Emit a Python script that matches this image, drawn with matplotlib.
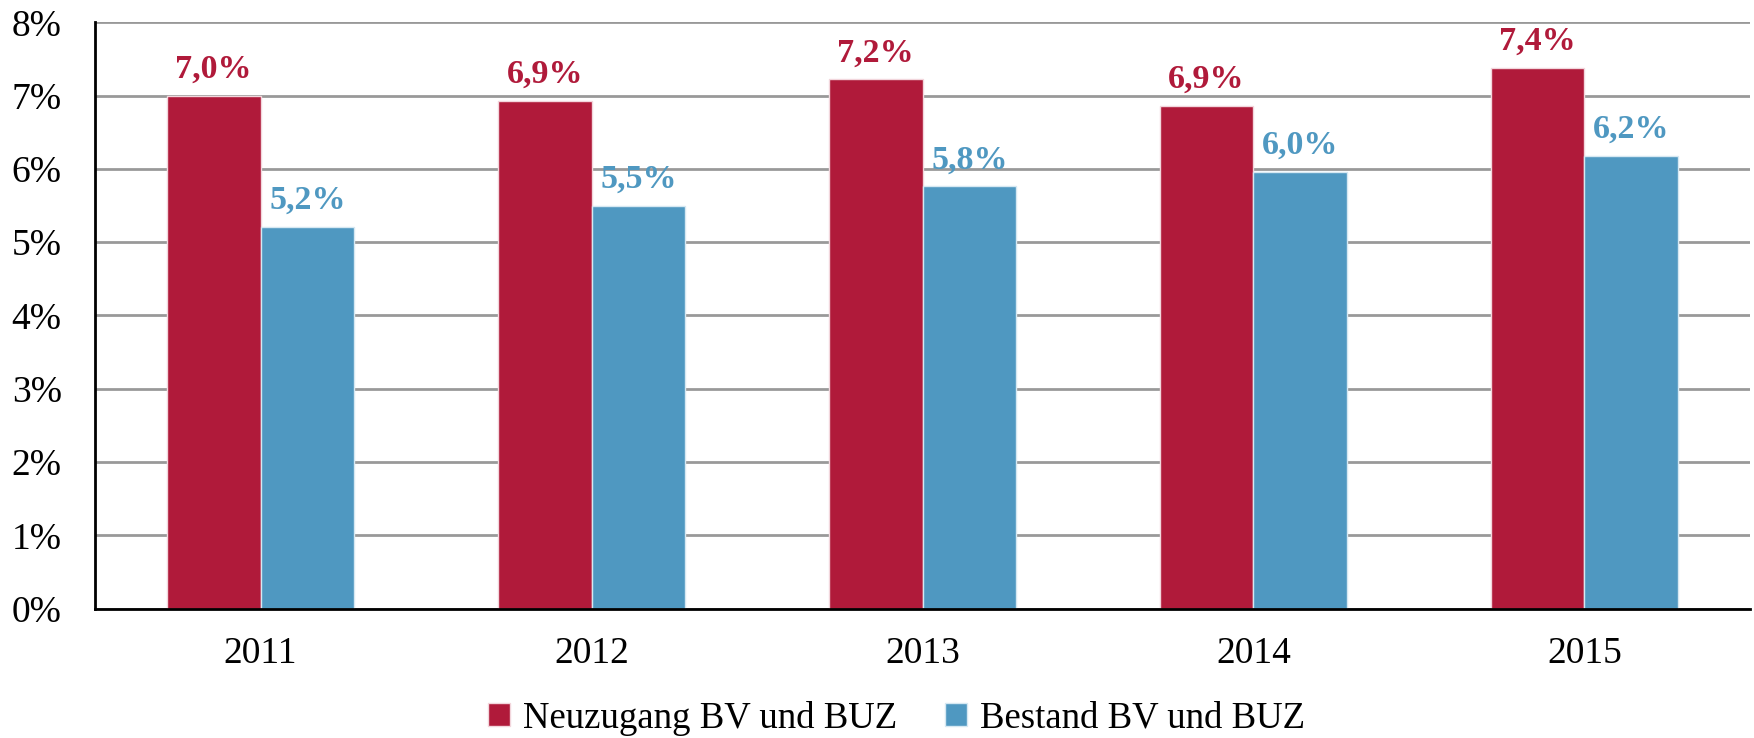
import matplotlib
matplotlib.use("Agg")
import matplotlib.pyplot as plt
import numpy as np

years = ["2011", "2012", "2013", "2014", "2015"]
neuzugang = [7.00, 6.93, 7.22, 6.86, 7.38]
bestand = [5.21, 5.49, 5.76, 5.96, 6.18]
series_names = ["Neuzugang BV und BUZ", "Bestand BV und BUZ"]
yticks = [0, 1, 2, 3, 4, 5, 6, 7, 8]

red = "#B01A3A"
blue = "#4F98C1"

plt.rcParams['font.family'] = ['Liberation Serif', 'DejaVu Serif']

fig = plt.figure(figsize=(17.54, 7.38), dpi=100)
ax = fig.add_axes([0.0542, 0.1752, 0.9435, 0.7946])

x = np.arange(len(years))
w = 0.283
b1 = ax.bar(x - w / 2, neuzugang, w, color=red, edgecolor="#F2D6DC", linewidth=1.0, label=series_names[0], zorder=3)
b2 = ax.bar(x + w / 2, bestand, w, color=blue, edgecolor="#D6E8F2", linewidth=1.0, label=series_names[1], zorder=3)

def fmt(v):
    return f"{v:.1f}".replace(".", ",") + "%"

for bars, vals, col in [(b1, neuzugang, red), (b2, bestand, blue)]:
    for r, v in zip(bars, vals):
        ax.annotate(fmt(v), (r.get_x() + r.get_width() / 2, v), xytext=(0, 8),
                    textcoords="offset points", ha="center", va="bottom",
                    fontsize=24.5, fontweight="bold", color=col)

ax.set_xlim(-0.5, len(years) - 0.5)
ax.set_ylim(0, 8)
ax.set_yticks(yticks)
ax.set_yticklabels([f"{t}%" for t in yticks], fontsize=27)
ax.set_xticks(x)
ax.set_xticklabels(years, fontsize=27)
ax.tick_params(axis="both", length=0)
ax.tick_params(axis="y", pad=24)
ax.tick_params(axis="x", pad=20)

ax.grid(axis="y", color="#999999", linewidth=2, zorder=0)
ax.set_axisbelow(True)
for s in ["top", "right"]:
    ax.spines[s].set_visible(False)
for s in ["left", "bottom"]:
    ax.spines[s].set_linewidth(2)
    ax.spines[s].set_color("black")
    ax.spines[s].set_zorder(4)

leg = fig.legend(handles=[b1, b2], labels=series_names, loc="center",
                 bbox_to_anchor=(0.511, 0.027), ncol=2, frameon=False,
                 fontsize=26.5, handlelength=0.6, handleheight=0.6,
                 handletextpad=0.35, columnspacing=1.3)

fig.savefig("out.png", dpi=100)
